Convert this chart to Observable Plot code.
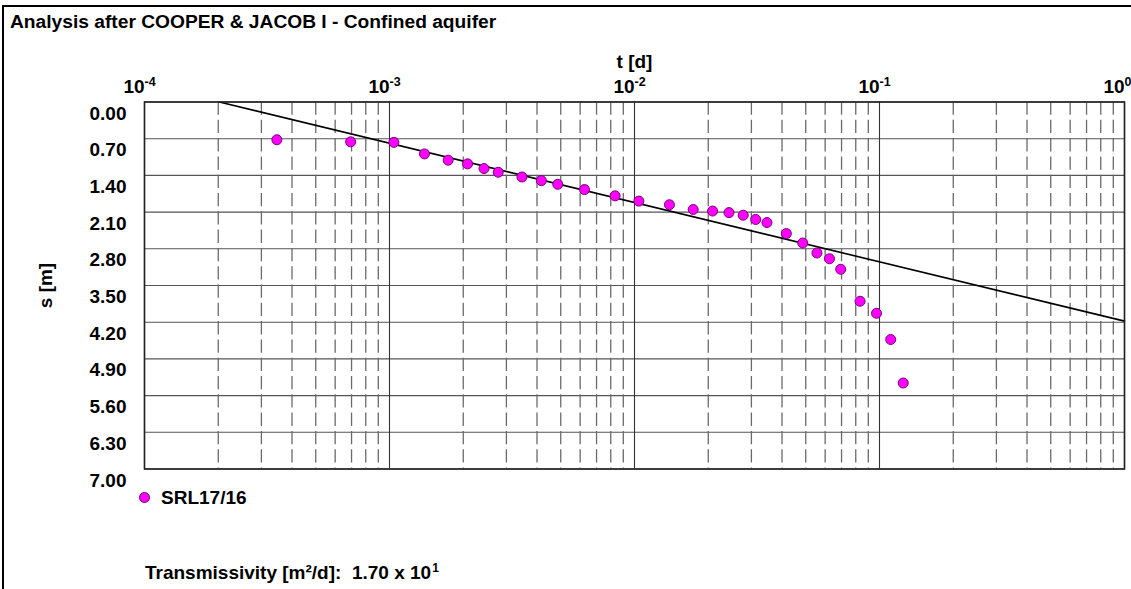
<!DOCTYPE html>
<html>
<head>
<meta charset="utf-8">
<script src="https://cdn.jsdelivr.net/npm/d3@7"></script>
<script src="https://cdn.jsdelivr.net/npm/@observablehq/plot@0.6"></script>
<style>
  html, body { margin: 0; padding: 0; background: #fff; }
  #wrap { position: relative; width: 1131px; height: 589px; overflow: hidden;
          font-family: 'Liberation Sans', Arial, sans-serif; font-weight: bold; color: #000; }
  #border { position: absolute; left: 2px; top: 5px; width: 1200px; height: 700px;
            border-top: 2px solid #000; border-left: 2px solid #000; }
  .lbl { position: absolute; font-size: 19px; line-height: 19px; white-space: nowrap; }
  #title { left: 10px; top: 12px; font-size: 19.2px; }
  #legend { left: 139px; top: 488px; display: flex; align-items: center; }
  #legend .sw { width: 9px; height: 9px; border-radius: 50%; background: #ff00ff;
                border: 1px solid #7a007a; margin-right: 11px; }
  #caption { left: 145px; top: 563px; }
  #caption sup { font-size: 12px; position: relative; top: -4px; vertical-align: top; margin-left: 1px; }
  #chart { position: absolute; left: 0; top: 0; }
</style>
</head>
<body>
<div id="wrap">
  <div id="border"></div>
  <div id="chart"></div>
  <div class="lbl" id="title">Analysis after COOPER &amp; JACOB I - Confined aquifer</div>
  <div class="lbl" id="legend"><span class="sw"></span><span>SRL17/16</span></div>
  <div class="lbl" id="caption">Transmissivity [m²/d]:&nbsp; 1.70 x 10<sup>1</sup></div>
</div>
<script>
// Observed data: time t [d] and drawdown s [m] for well SRL17/16
const tObs = [0.000347, 0.000694, 0.001042, 0.001389, 0.001736, 0.002083, 0.002431, 0.002778,
              0.003472, 0.004167, 0.004861, 0.00625, 0.008333, 0.010417, 0.013889, 0.017361,
              0.020833, 0.024306, 0.027778, 0.03125, 0.034722, 0.041667, 0.048611, 0.055556,
              0.0625, 0.069444, 0.083333, 0.097222, 0.111111, 0.125];
const sObs = [0.72, 0.76, 0.77, 0.99, 1.11, 1.18, 1.27, 1.34, 1.43, 1.50, 1.57, 1.67, 1.79, 1.89,
              1.96, 2.05, 2.08, 2.11, 2.16, 2.24, 2.30, 2.51, 2.69, 2.88, 2.99, 3.19, 3.80, 4.03,
              4.53, 5.36];

// Cooper-Jacob straight-line fit (end points)
const tFit = [0.000202, 1];
const sFit = [0, 4.18];

// Axis ticks
const xDecades = [1e-4, 1e-3, 1e-2, 1e-1, 1];
const xMinor = [];
for (const d of xDecades.slice(0, -1)) for (const k of [2, 3, 4, 5, 6, 7, 8, 9]) xMinor.push(k * d);
const yTicks = [0, 0.7, 1.4, 2.1, 2.8, 3.5, 4.2, 4.9, 5.6, 6.3, 7.0];

const obs = tObs.map((t, i) => ({t, s: sObs[i]}));
const fit = tFit.map((t, i) => ({t, s: sFit[i]}));

const chart = Plot.plot({
  width: 1131,
  height: 589,
  marginLeft: 144,
  marginRight: 7,
  marginTop: 101.5,
  marginBottom: 120.5,
  style: {font: "bold 19px 'Liberation Sans', Arial, sans-serif", background: "transparent", overflow: "visible"},
  x: {type: "log", domain: [1e-4, 1], axis: null},
  y: {domain: [0, 7], reverse: true, axis: null},
  marks: [
    Plot.ruleY(yTicks, {stroke: "#555", strokeWidth: 1.1}),
    Plot.ruleX(xMinor, {stroke: "#6a6a6a", strokeWidth: 1.3, strokeDasharray: "13.3,5"}),
    Plot.ruleX(xDecades, {stroke: "#333", strokeWidth: 1.1}),
    Plot.line(fit, {x: "t", y: "s", stroke: "#000", strokeWidth: 1.6}),
    Plot.dot(obs, {x: "t", y: "s", r: 5, fill: "#ff00ff", stroke: "#7a007a", strokeWidth: 1}),
    Plot.frame({stroke: "#222", strokeWidth: 1.6}),
    Plot.axisX({anchor: "top", ticks: xDecades, tickSize: 0, tickPadding: 9,
                tickFormat: d => String(Math.round(Math.log10(d))), label: null}),
    Plot.axisY({anchor: "left", ticks: yTicks, tickSize: 0, tickPadding: 18, dy: 11.5,
                tickFormat: d => d.toFixed(2), label: null}),
    Plot.text(["t [d]"], {frameAnchor: "top", dy: -40, lineAnchor: "middle", textAnchor: "middle"}),
    Plot.text(["s [m]"], {frameAnchor: "left", dx: -99, rotate: -90, lineAnchor: "middle", textAnchor: "middle"})
  ]
});
document.getElementById("chart").appendChild(chart);

// Render x tick labels as 10^n with a raised exponent, "10" ending at the tick
const NS = "http://www.w3.org/2000/svg";
chart.querySelectorAll('g[aria-label="x-axis tick label"] text').forEach(txt => {
  const exp = txt.textContent;
  txt.textContent = "";
  txt.setAttribute("text-anchor", "start");
  const base = document.createElementNS(NS, "tspan");
  base.setAttribute("dx", "-1.11em");
  base.textContent = "10";
  const sup = document.createElementNS(NS, "tspan");
  sup.setAttribute("dy", "-7");
  sup.setAttribute("font-size", "12.5px");
  sup.textContent = exp;
  txt.appendChild(base);
  txt.appendChild(sup);
});
</script>
</body>
</html>
